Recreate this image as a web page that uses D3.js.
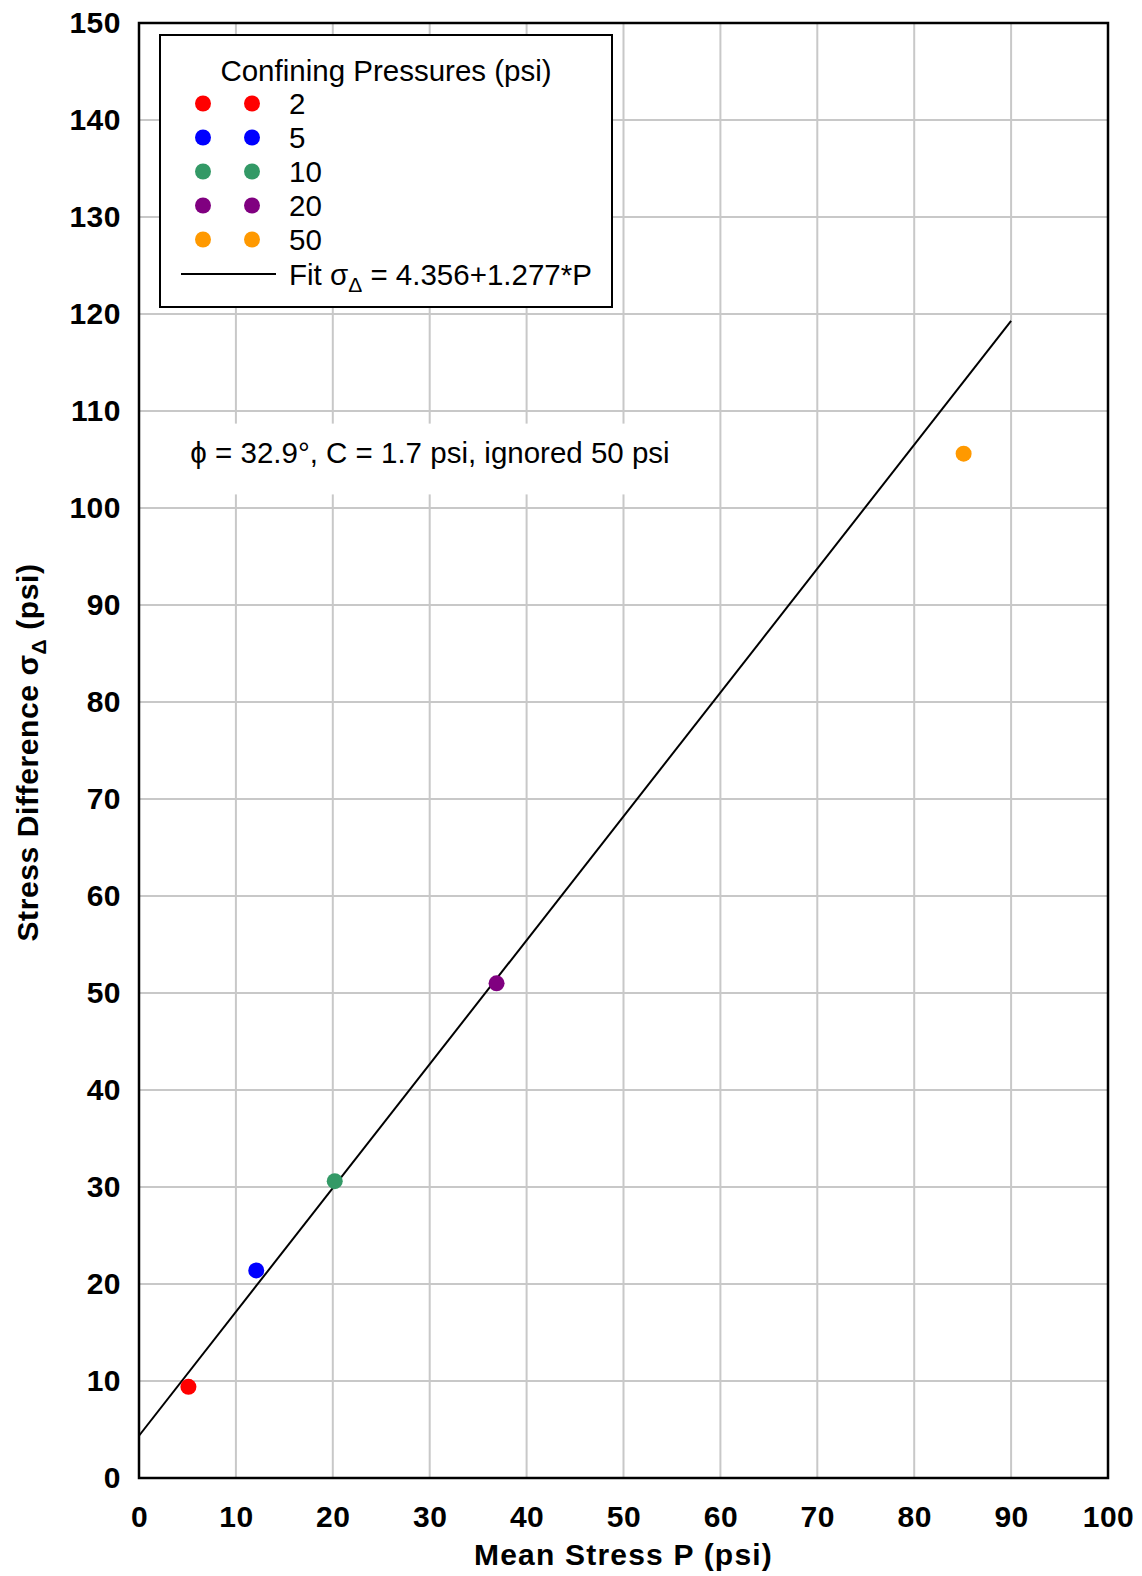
<!DOCTYPE html>
<html>
<head>
<meta charset="utf-8">
<script src="https://cdn.jsdelivr.net/npm/d3@7"></script>
<style>
  body { margin: 0; background: #fff; }
  text { font-family: "Liberation Sans", Arial, sans-serif; }
</style>
</head>
<body>
<div id="wrapper"></div>
<script>
// data
const pressures = ["2", "5", "10", "20", "50"]
const colors = ["#ff0000", "#0000ff", "#339966", "#800080", "#ff9900"]
const meanStress = [5.1, 12.1, 20.2, 36.9, 85.1]
const stressDiff = [9.4, 21.4, 30.6, 51.0, 105.6]
const fitIntercept = 4.356
const fitSlope = 1.277
const fitRange = [0, 90]
const xTicks = d3.range(0, 101, 10)
const yTicks = d3.range(0, 151, 10)

const dimensions = {
    width: 1142,
    height: 1576,
    margin: { top: 23, right: 34, bottom: 98, left: 139 }
}
dimensions.boundedWidth = dimensions.width - dimensions.margin.left - dimensions.margin.right
dimensions.boundedHeight = dimensions.height - dimensions.margin.top - dimensions.margin.bottom

const svg = d3.select("#wrapper")
    .append("svg")
    .attr("width", dimensions.width)
    .attr("height", dimensions.height)

const bounds = svg.append("g")
    .attr("transform", `translate(${dimensions.margin.left},${dimensions.margin.top})`)

const xScale = d3.scaleLinear()
    .domain([0, 100])
    .range([0, dimensions.boundedWidth])

const yScale = d3.scaleLinear()
    .domain([0, 150])
    .range([dimensions.boundedHeight, 0])

// grid
bounds.append("g")
    .selectAll("line")
    .data(xTicks)
    .join("line")
    .attr("x1", d => xScale(d)).attr("x2", d => xScale(d))
    .attr("y1", 0).attr("y2", dimensions.boundedHeight)
    .attr("stroke", "#c8c8c8").attr("stroke-width", 2)

bounds.append("g")
    .selectAll("line")
    .data(yTicks)
    .join("line")
    .attr("x1", 0).attr("x2", dimensions.boundedWidth)
    .attr("y1", d => yScale(d)).attr("y2", d => yScale(d))
    .attr("stroke", "#c8c8c8").attr("stroke-width", 2)

// annotation box (white, hides grid)
bounds.append("rect")
    .attr("x", xScale(4)).attr("y", yScale(108.7))
    .attr("width", xScale(56) - xScale(4))
    .attr("height", yScale(101.4) - yScale(108.7))
    .attr("fill", "#fff")

bounds.append("text")
    .attr("x", xScale(5.3))
    .attr("y", yScale(104.6))
    .attr("font-size", 29.5)
    .text("\u03D5 = 32.9\u00B0, C = 1.7 psi, ignored 50 psi")

// fit line
bounds.append("line")
    .attr("x1", xScale(fitRange[0]))
    .attr("y1", yScale(fitIntercept + fitSlope * fitRange[0]))
    .attr("x2", xScale(fitRange[1]))
    .attr("y2", yScale(fitIntercept + fitSlope * fitRange[1]))
    .attr("stroke", "#000").attr("stroke-width", 2)

// points
bounds.append("g")
    .selectAll("circle")
    .data(meanStress)
    .join("circle")
    .attr("cx", d => xScale(d))
    .attr("cy", (d, i) => yScale(stressDiff[i]))
    .attr("r", 8)
    .attr("fill", (d, i) => colors[i])

// frame
bounds.append("rect")
    .attr("width", dimensions.boundedWidth)
    .attr("height", dimensions.boundedHeight)
    .attr("fill", "none")
    .attr("stroke", "#000").attr("stroke-width", 2.5)

// axes
const xAxis = d3.axisBottom(xScale).tickValues(xTicks).tickSize(0).tickPadding(28)
const yAxis = d3.axisLeft(yScale).tickValues(yTicks).tickSize(0).tickPadding(18)

const xAxisEl = bounds.append("g")
    .attr("transform", `translate(0,${dimensions.boundedHeight})`)
    .call(xAxis)
const yAxisEl = bounds.append("g").call(yAxis)

;[xAxisEl, yAxisEl].forEach(el => {
    el.select(".domain").remove()
    el.selectAll("text")
        .attr("font-family", "Liberation Sans, Arial, sans-serif")
        .attr("font-size", 30)
        .attr("font-weight", "bold")
        .attr("letter-spacing", 0.5)
        .attr("fill", "#000")
})

// axis titles
svg.append("text")
    .attr("x", dimensions.margin.left + dimensions.boundedWidth / 2)
    .attr("y", 1565)
    .attr("text-anchor", "middle")
    .attr("font-size", 30)
    .attr("font-weight", "bold")
    .attr("letter-spacing", 1.2)
    .text("Mean Stress P (psi)")

const yTitle = svg.append("text")
    .attr("transform", `translate(38,${dimensions.margin.top + dimensions.boundedHeight / 2 + 2}) rotate(-90)`)
    .attr("text-anchor", "middle")
    .attr("font-size", 30)
    .attr("font-weight", "bold")
    .attr("letter-spacing", 0.6)
yTitle.append("tspan").text("Stress Difference \u03C3")
yTitle.append("tspan").attr("font-size", 21).attr("dy", 8).text("\u0394")
yTitle.append("tspan").attr("dy", -8).text(" (psi)")

// legend
const legend = svg.append("g")
legend.append("rect")
    .attr("x", 160).attr("y", 35)
    .attr("width", 452).attr("height", 272)
    .attr("fill", "#fff")
    .attr("stroke", "#000").attr("stroke-width", 2)

legend.append("text")
    .attr("x", 386).attr("y", 81)
    .attr("text-anchor", "middle")
    .attr("font-size", 29.5)
    .text("Confining Pressures (psi)")

const rows = legend.selectAll(".row")
    .data(pressures)
    .join("g")
    .attr("class", "row")
    .attr("transform", (d, i) => `translate(0,${103.5 + i * 34})`)

rows.append("circle").attr("cx", 203).attr("r", 8).attr("fill", (d, i) => colors[i])
rows.append("circle").attr("cx", 252).attr("r", 8).attr("fill", (d, i) => colors[i])
rows.append("text")
    .attr("x", 289).attr("y", 10.5)
    .attr("font-size", 29.5)
    .text(d => d)

legend.append("line")
    .attr("x1", 181).attr("x2", 276)
    .attr("y1", 274).attr("y2", 274)
    .attr("stroke", "#000").attr("stroke-width", 2)

const fitLabel = legend.append("text")
    .attr("x", 289).attr("y", 284.5)
    .attr("font-size", 29.5)
fitLabel.append("tspan").text("Fit \u03C3")
fitLabel.append("tspan").attr("font-size", 21).attr("dy", 7).text("\u0394")
fitLabel.append("tspan").attr("dy", -7).text(" = 4.356+1.277*P")
</script>
</body>
</html>
